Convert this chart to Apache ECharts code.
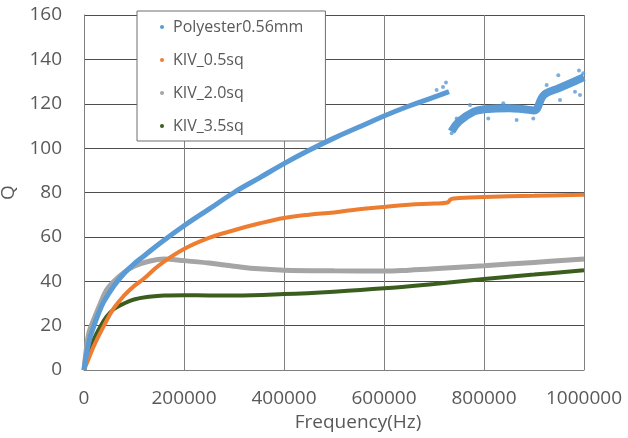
<!DOCTYPE html>
<html>
<head>
<meta charset="utf-8">
<script src="https://cdn.jsdelivr.net/npm/echarts@6/dist/echarts.min.js"></script>
<style>
  html, body { margin: 0; padding: 0; background: #fff; }
  #chart { width: 628px; height: 438px; }
</style>
</head>
<body>
<div id="chart"></div>
<script>
// x ticks / y ticks
let xTicks = [0, 200000, 400000, 600000, 800000, 1000000],
  yTicks = [0, 20, 40, 60, 80, 100, 120, 140, 160];

// [frequency Hz, Q]
let polyesterLow = [
  [0, 0], [10000, 13], [20000, 20], [30000, 26], [40000, 31], [60000, 38],
  [80000, 43.5], [100000, 47.8], [120000, 51.4], [150000, 56.8], [200000, 65],
  [250000, 72.5], [300000, 80], [350000, 86.5], [400000, 93], [450000, 99],
  [500000, 104.5], [550000, 109.5], [600000, 114.5], [650000, 119],
  [700000, 123], [730000, 125.5]
];
let polyesterHigh = [
  [735000, 107.5], [750000, 112], [780000, 116.5], [800000, 117.5],
  [850000, 118], [880000, 117.5], [900000, 117], [920000, 124],
  [950000, 127], [980000, 130], [1000000, 132]
];
// stray points around the noisy band
let polyesterStray = [
  [672000, 120.2], [705300, 126.2], [724000, 129.6], [718000, 127.5],
  [735300, 106.7], [738600, 108.9], [745300, 113.4], [772000, 119.4],
  [808600, 113.4], [838600, 120.2], [865300, 112.7], [898600, 113.4],
  [925300, 128.4], [948600, 132.9], [952000, 121.7], [982000, 125.4],
  [992000, 123.9], [998600, 133.7], [990000, 135]
];
let kiv05 = [
  [0, 0], [10000, 5.5], [20000, 11], [40000, 20], [60000, 28], [80000, 33.5],
  [100000, 37.8], [120000, 41.2], [150000, 47.2], [200000, 54.5],
  [250000, 59.5], [300000, 63], [350000, 66], [400000, 68.5], [450000, 70],
  [500000, 71], [550000, 72.5], [600000, 73.5], [650000, 74.5],
  [700000, 75], [727000, 75.5], [734000, 77], [750000, 77.5],
  [800000, 78], [900000, 78.5], [1000000, 79]
];
let kiv20 = [
  [0, 0], [5000, 10], [10000, 17], [20000, 23], [30000, 28.5], [45000, 36],
  [60000, 40], [80000, 44], [100000, 46.8], [130000, 49], [160000, 50],
  [200000, 49.3], [250000, 48.2], [300000, 46.8], [350000, 45.6],
  [400000, 45], [500000, 44.7], [600000, 44.6], [650000, 45],
  [700000, 45.6], [800000, 47], [900000, 48.5], [1000000, 50]
];
let kiv35 = [
  [0, 0], [10000, 8], [20000, 14], [30000, 18.5], [45000, 24], [60000, 27.5],
  [80000, 30], [100000, 31.8], [130000, 33], [160000, 33.6], [200000, 33.7],
  [250000, 33.6], [300000, 33.6], [400000, 34.2], [500000, 35.3],
  [600000, 36.8], [700000, 38.8], [800000, 41], [900000, 43], [1000000, 45]
];

let names = ["Polyester0.56mm", "KIV_0.5sq", "KIV_2.0sq", "KIV_3.5sq"],
  colors = ["#5B9BD5", "#ED7D31", "#A5A5A5", "#3B5E1F"];

let font = "'Open Sans', sans-serif";

function curve(name, data, color, width, z) {
  return {
    name: name,
    type: "line",
    data: data,
    smooth: 0.4,
    showSymbol: false,
    itemStyle: { color: color },
    lineStyle: { color: color, width: width },
    z: z
  };
}

let chart = echarts.init(document.getElementById("chart"));
chart.setOption({
  animation: false,
  textStyle: { fontFamily: font },
  grid: { left: 84, right: 44, top: 15, bottom: 68, outerBoundsMode: "none", containLabel: false },
  legend: {
    orient: "vertical",
    left: 137,
    top: 11,
    padding: [8, 22, 7, 23],
    itemGap: 17,
    itemWidth: 4,
    itemHeight: 4,
    icon: "circle",
    backgroundColor: "#fff",
    borderColor: "#6e6e6e",
    borderWidth: 1,
    textStyle: { fontSize: 16, color: "#595959", lineHeight: 16, padding: [0, 0, 0, 4] },
    data: names
  },
  xAxis: {
    type: "value",
    min: xTicks[0],
    max: xTicks[xTicks.length - 1],
    interval: xTicks[1] - xTicks[0],
    name: "Frequency(Hz)",
    nameLocation: "middle",
    nameGap: 43,
    nameTextStyle: { fontSize: 19, color: "#595959", padding: [0, 0, 0, 48] },
    axisLine: { lineStyle: { color: "#7f7f7f" } },
    axisTick: { show: false },
    axisLabel: { fontSize: 19, color: "#595959", margin: 19, formatter: v => String(v) },
    splitLine: { lineStyle: { color: "#808080", width: 1 } }
  },
  yAxis: {
    type: "value",
    min: yTicks[0],
    max: yTicks[yTicks.length - 1],
    interval: yTicks[1] - yTicks[0],
    name: "Q",
    nameLocation: "middle",
    nameGap: 64,
    nameTextStyle: { fontSize: 19, color: "#595959" },
    axisLine: { show: true, lineStyle: { color: "#7f7f7f" } },
    axisTick: { show: false },
    axisLabel: { fontSize: 19, color: "#595959", margin: 22 },
    splitLine: { lineStyle: { color: "#4d4d4d", width: 1 } }
  },
  series: [
    curve(names[0], polyesterLow, colors[0], 5, 10),
    curve(names[0], polyesterHigh, colors[0], 8, 10),
    {
      name: names[0],
      type: "scatter",
      data: polyesterStray,
      symbolSize: 4,
      itemStyle: { color: colors[0] },
      z: 10
    },
    curve(names[1], kiv05, colors[1], 4, 9),
    curve(names[2], kiv20, colors[2], 5, 8),
    curve(names[3], kiv35, colors[3], 4, 7)
  ]
});
</script>
</body>
</html>
